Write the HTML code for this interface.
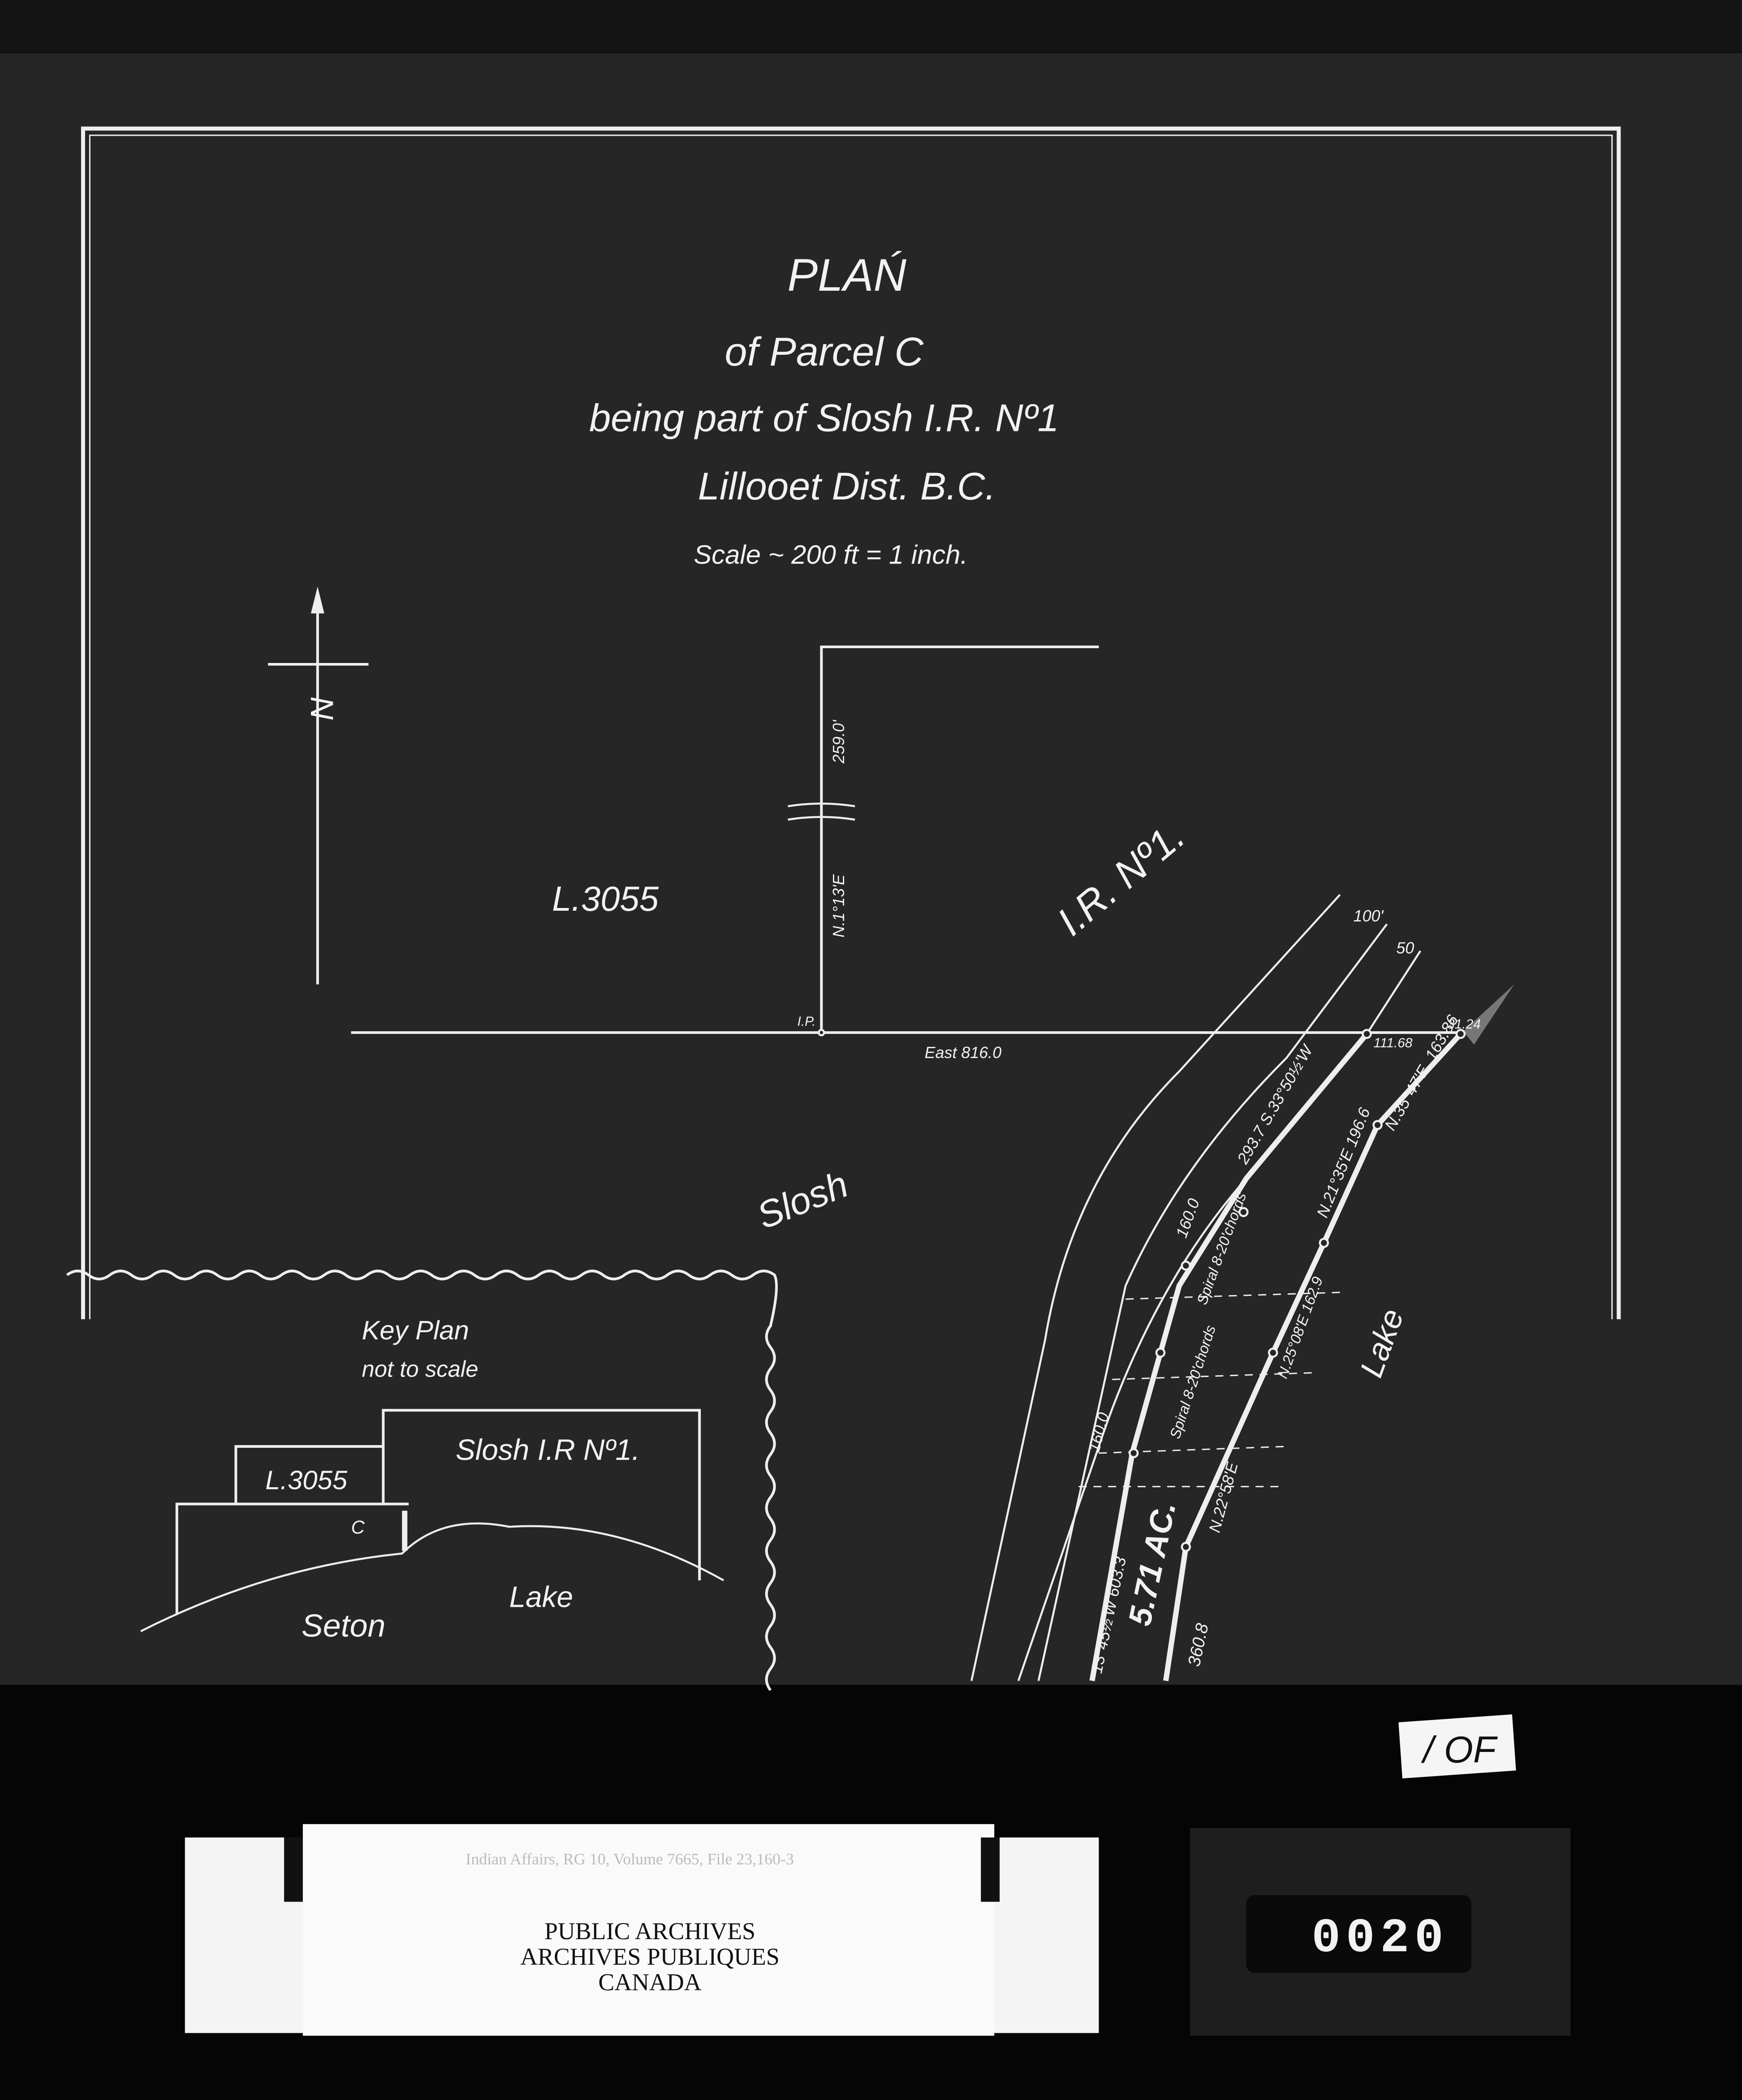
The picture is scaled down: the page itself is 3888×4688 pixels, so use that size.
<!DOCTYPE html>
<html><head><meta charset="utf-8"><style>
html,body{margin:0;padding:0;background:#111;}
svg{display:block;width:3888px;height:4688px;}
text{font-family:"Liberation Sans",sans-serif;fill:#f2f2f2;font-style:italic;}
.s{stroke:#eee;fill:none;}
</style></head><body>
<svg viewBox="0 0 1300 1568" preserveAspectRatio="none" xmlns="http://www.w3.org/2000/svg">
<rect width="1300" height="1568" fill="#141414"/>
<rect x="0" y="40" width="1300" height="1218" fill="#262626"/>
<rect x="0" y="1258" width="1300" height="310" fill="#050505"/>
<!-- border -->
<path class="s" stroke-width="3" d="M62 985 V96 H1208 V985"/>
<path class="s" stroke-width="1" d="M67 985 V101 H1203 V985"/>
<!-- title -->
<text x="632" y="217" font-size="34" text-anchor="middle">PLAŃ</text>
<text x="615" y="273" font-size="30" text-anchor="middle">of Parcel C</text>
<text x="615" y="322" font-size="29" text-anchor="middle">being part of Slosh I.R. Nº1</text>
<text x="632" y="373" font-size="29" text-anchor="middle">Lillooet  Dist.  B.C.</text>
<text x="620" y="421" font-size="20" text-anchor="middle">Scale ~ 200 ft = 1 inch.</text>
<!-- north arrow -->
<path class="s" stroke-width="2" d="M237 452 V735 M200 496 H275"/>
<path d="M237 438 L232 458 L242 458 Z" fill="#eee"/>
<text x="230" y="532" font-size="24" transform="rotate(90 237 527)">N</text>
<!-- lot lines -->
<path class="s" stroke-width="2" d="M262 771 H1092 M613 771 V483 H820"/>
<path class="s" stroke-width="1.5" d="M588 602 Q613 598 638 602 M588 612 Q613 608 638 612"/>
<text x="630" y="570" font-size="12" transform="rotate(-90 630 570)">259.0'</text>
<text x="630" y="700" font-size="12" transform="rotate(-90 630 700)">N.1°13'E</text>
<text x="412" y="680" font-size="26">L.3055</text>
<text x="800" y="700" font-size="30" transform="rotate(-40 800 700)">I.R. Nº1.</text>
<text x="690" y="790" font-size="12">East   816.0</text>
<text x="595" y="766" font-size="10">I.P.</text>
<text x="570" y="918" font-size="28" transform="rotate(-22 570 918)">Slosh</text>
<text x="1030" y="1030" font-size="24" transform="rotate(-70 1030 1030)">Lake</text>
<!-- road right of way -->
<path class="s" stroke-width="1.5" d="M1000 668 L880 800 Q800 880 780 1000 L725 1255"/>
<path class="s" stroke-width="1.5" d="M1035 690 L960 790 Q880 870 840 960 L775 1255"/>
<path class="s" stroke-width="1.5" d="M1060 710 L1020 772 L930 880 Q860 960 820 1080 L760 1255"/>
<path class="s" stroke-width="4" d="M1020 772 L930 880 L880 960 L845 1085 L815 1255"/>
<path class="s" stroke-width="4" d="M1090 772 L1028 840 L988 928 L950 1010 L885 1155 L870 1255"/>
<path class="s" stroke-width="1" stroke-dasharray="6,5" d="M840 970 L1000 965 M830 1030 L980 1025 M820 1085 L960 1080 M805 1110 L955 1110"/>
<path d="M1092 770 L1130 735 L1100 780 Z" fill="#777"/>
<g fill="#262626" stroke="#eee" stroke-width="1.5">
<circle cx="1020" cy="772" r="3"/><circle cx="1090" cy="772" r="3"/><circle cx="1028" cy="840" r="3"/><circle cx="928" cy="905" r="3"/><circle cx="988" cy="928" r="3"/><circle cx="885" cy="945" r="3"/><circle cx="866" cy="1010" r="3"/><circle cx="950" cy="1010" r="3"/><circle cx="846" cy="1085" r="3"/><circle cx="885" cy="1155" r="3"/><circle cx="613" cy="771" r="2"/>
</g>
<text x="1010" y="688" font-size="12">100'</text>
<text x="1042" y="712" font-size="12">50</text>
<text x="1025" y="782" font-size="10">111.68</text>
<text x="1080" y="768" font-size="10">31.24</text>
<text x="1040" y="845" font-size="12" transform="rotate(-60 1040 845)">N.35°47'E. 163.86</text>
<text x="930" y="870" font-size="12" transform="rotate(-60 930 870)">293.7  S.33°50½'W</text>
<text x="990" y="910" font-size="12" transform="rotate(-68 990 910)">N.21°35'E 196.6</text>
<text x="900" y="975" font-size="11" transform="rotate(-70 900 975)">Spiral 8-20'chords</text>
<text x="960" y="1030" font-size="11" transform="rotate(-70 960 1030)">N.25°08'E 162.9</text>
<text x="880" y="1075" font-size="11" transform="rotate(-72 880 1075)">Spiral 8-20'chords</text>
<text x="910" y="1145" font-size="12" transform="rotate(-75 910 1145)">N.22°58'E</text>
<text x="858" y="1215" font-size="24" font-weight="bold" transform="rotate(-78 858 1215)">5.71 AC.</text>
<text x="895" y="1245" font-size="13" transform="rotate(-78 895 1245)">360.8</text>
<text x="820" y="1085" font-size="12" transform="rotate(-75 820 1085)">160.0</text>
<text x="885" y="925" font-size="12" transform="rotate(-70 885 925)">160.0</text>
<text x="822" y="1250" font-size="12" transform="rotate(-78 822 1250)">13°45½'W 603.3</text>
<!-- key plan -->
<path class="s" stroke-width="2" d="M50 952 q8 -6 16 0 t16 0 t16 0 t16 0 t16 0 t16 0 t16 0 t16 0 t16 0 t16 0 t16 0 t16 0 t16 0 t16 0 t16 0 t16 0 t16 0 t16 0 t16 0 t16 0 t16 0 t16 0 t16 0 t16 0 t16 0 t16 0 t16 0 t16 0 t16 0 t16 0 t16 0 t16 0 t16 0 Q582 960 575 990 q-6 8 0 16 t0 16 t0 16 t0 16 t0 16 t0 16 t0 16 t0 16 t0 16 t0 16 t0 16 t0 16 t0 16 t0 16 t0 16 t0 16 t0 16"/>
<text x="270" y="1000" font-size="20">Key  Plan</text>
<text x="270" y="1028" font-size="17">not to scale</text>
<path class="s" stroke-width="2" d="M132 1205 V1123 H176 V1080 H286 V1053 H522 V1180 M176 1123 H286 V1080 M286 1123 H305"/>
<path class="s" stroke-width="1.5" d="M105 1218 Q200 1170 300 1160 Q330 1130 380 1140 Q460 1135 540 1180"/>
<path class="s" stroke-width="4" d="M302 1128 V1158"/>
<text x="340" y="1090" font-size="22">Slosh I.R Nº1.</text>
<text x="198" y="1112" font-size="20">L.3055</text>
<text x="262" y="1145" font-size="14">C</text>
<text x="225" y="1222" font-size="24">Seton</text>
<text x="380" y="1200" font-size="22">Lake</text>
<!-- bottom -->
<rect x="1045" y="1283" width="85" height="42" fill="#f5f5f5" transform="rotate(-4 1087 1304)"/>
<text x="1062" y="1316" font-size="28" style="fill:#111">/ OF</text>
<rect x="138" y="1372" width="682" height="146" fill="#f4f4f4"/>
<rect x="226" y="1362" width="516" height="158" fill="#fafafa"/>
<rect x="212" y="1372" width="14" height="48" fill="#111"/>
<rect x="732" y="1372" width="14" height="48" fill="#111"/>
<text x="470" y="1392" font-size="12" text-anchor="middle" style="fill:#bbb;font-style:normal;font-family:'Liberation Serif',serif">Indian Affairs, RG 10, Volume 7665, File 23,160-3</text>
<g style="font-family:'Liberation Serif',serif;font-style:normal" font-size="18" text-anchor="middle">
<text x="485" y="1448" style="fill:#111;font-style:normal;font-family:'Liberation Serif',serif">PUBLIC ARCHIVES</text>
<text x="485" y="1467" style="fill:#111;font-style:normal;font-family:'Liberation Serif',serif">ARCHIVES PUBLIQUES</text>
<text x="485" y="1486" style="fill:#111;font-style:normal;font-family:'Liberation Serif',serif">CANADA</text>
</g>
<rect x="888" y="1365" width="284" height="155" fill="#1e1e1e"/>
<rect x="930" y="1415" width="168" height="58" rx="6" fill="#0a0a0a"/>
<text x="1030" y="1457" font-size="36" text-anchor="middle" style="font-family:'Liberation Mono',monospace;font-style:normal;font-weight:bold" letter-spacing="4">0020</text>
</svg>
</body></html>
